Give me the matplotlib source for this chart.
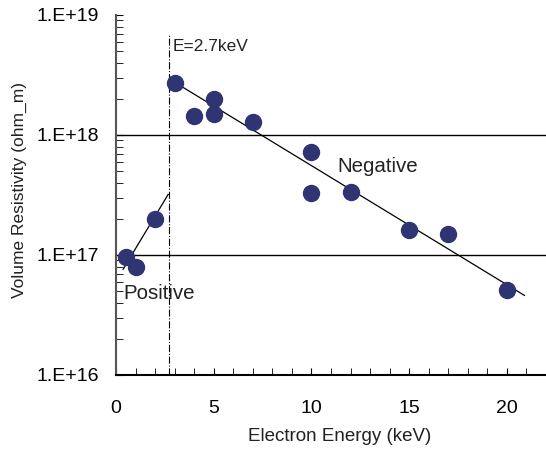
import matplotlib.pyplot as plt
from matplotlib.ticker import LogLocator, MultipleLocator, FixedFormatter, FixedLocator

plt.rcParams['font.family'] = ['Liberation Sans', 'DejaVu Sans']

# measured points
energy = [0.5, 1, 2, 3, 4, 5, 5, 7, 10, 10, 12, 15, 17, 20]
resistivity = [9.6e16, 7.9e16, 2.0e17, 2.7e18, 1.45e18, 2.0e18, 1.5e18,
               1.29e18, 7.2e17, 3.3e17, 3.35e17, 1.6e17, 1.5e17, 5.1e16]

# fitted lines
pos_x = [0.36, 2.67]
pos_y = [7.6e16, 3.2e17]
neg_x = [3.0, 20.9]
neg_y = [2.75e18, 4.6e16]

e_threshold = 2.7

fig = plt.figure(figsize=(5.46, 4.5), dpi=100)
ax = fig.add_axes([0.2125, 0.1667, 0.7875, 0.8])

ax.set_yscale('log')
ax.set_xlim(0, 22)
ax.set_ylim(1e16, 1e19)

for y in [1e17, 1e18]:
    ax.axhline(y, color='black', lw=1, zorder=1)

ax.plot(pos_x, pos_y, color='black', lw=0.9, zorder=2)
ax.plot(neg_x, neg_y, color='black', lw=0.9, zorder=2)
ax.plot([e_threshold, e_threshold], [1e16, 10**18.83], color='black',
        lw=0.8, ls='-.', zorder=2)

ax.plot(energy, resistivity, 'o', color='#2e3572', ms=11.5, mec='#2e3572', zorder=3)

ax.text(2.92, 10**18.74, 'E=2.7keV', fontsize=12.5, va='center', ha='left', color='#222222')
ax.text(0.4, 10**16.68, 'Positive', fontsize=14.8, va='center', ha='left', color='#222222')
ax.text(11.3, 10**17.74, 'Negative', fontsize=14.8, va='center', ha='left', color='#222222')

ax.spines['top'].set_visible(False)
ax.spines['right'].set_visible(False)
ax.spines['left'].set_color('#555555')
ax.spines['left'].set_linewidth(1.5)
ax.spines['bottom'].set_linewidth(1.5)

ax.xaxis.set_major_locator(MultipleLocator(5))
ax.xaxis.set_minor_locator(MultipleLocator(1))
ax.yaxis.set_major_locator(FixedLocator([1e16, 1e17, 1e18, 1e19]))
ax.yaxis.set_major_formatter(FixedFormatter(['1.E+16', '1.E+17', '1.E+18', '1.E+19']))
ax.yaxis.set_minor_locator(LogLocator(base=10, subs=range(2, 10)))
ax.yaxis.set_minor_formatter(FixedFormatter([]))

ax.tick_params(which='both', direction='in', labelsize=14, colors='black')
ax.tick_params(which='major', length=5)
ax.tick_params(which='minor', length=5)
ax.tick_params(axis='y', pad=12)
ax.tick_params(axis='x', pad=18)

ax.set_xlabel('Electron Energy (keV)', fontsize=13.5, color='#222222')
ax.xaxis.set_label_coords(0.521, -0.148)
ax.set_ylabel('Volume Resistivity (ohm_m)', fontsize=12.5, color='#222222')
ax.yaxis.set_label_coords(-0.207, 0.514)

fig.savefig('out.png', dpi=100)
